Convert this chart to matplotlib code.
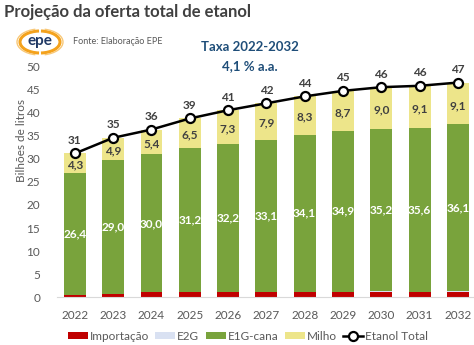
import numpy as np
import matplotlib
matplotlib.use("Agg")
import matplotlib.pyplot as plt
from matplotlib.patches import Arc

plt.rcParams['font.family'] = ['Lato', 'DejaVu Sans']

# oferta de etanol (bilhões de litros)
anos = ['2022', '2023', '2024', '2025', '2026', '2027', '2028', '2029', '2030', '2031', '2032']
importacao = [0.5, 0.6, 1.0, 1.0, 1.0, 1.0, 1.0, 1.0, 1.2, 1.0, 1.1]
e2g = [0.0, 0.1, 0.0, 0.1, 0.1, 0.1, 0.2, 0.2, 0.2, 0.2, 0.3]
e1g_cana = [26.4, 29.0, 30.0, 31.2, 32.2, 33.1, 34.1, 34.9, 35.2, 35.6, 36.1]
milho = [4.3, 4.9, 5.4, 6.5, 7.3, 7.9, 8.3, 8.7, 9.0, 9.1, 9.1]

c_imp = '#C00000'
c_e2g = '#D9E1F2'
c_cana = '#79A33C'
c_milho = '#EDE58A'
c_txt = '#404040'
c_tick = '#595959'

x = np.arange(len(anos))
imp = np.array(importacao)
seg = np.array(e2g)
cana = np.array(e1g_cana)
mil = np.array(milho)
total = imp + seg + cana + mil

fig = plt.figure(figsize=(4.74, 3.45), dpi=100)
ax = fig.add_axes([0.120, 0.139, 0.880, 0.667])

w = 0.57
h1 = ax.bar(x, imp, w, color=c_imp, label='Importação')
h2 = ax.bar(x, seg, w, bottom=imp, color=c_e2g, label='E2G')
h3 = ax.bar(x, cana, w, bottom=imp + seg, color=c_cana, label='E1G-cana')
h4 = ax.bar(x, mil, w, bottom=imp + seg + cana, color=c_milho, label='Milho')
h5, = ax.plot(x, total, color='black', lw=1.8, marker='o', ms=6.5,
              mfc='white', mec='black', mew=1.6, label='Etanol Total', zorder=5)

for i in range(len(x)):
    b = imp[i] + seg[i]
    ax.text(x[i], b + cana[i] / 2, f'{cana[i]:.1f}'.replace('.', ','),
            ha='center', va='center', color='white', fontsize=8.5, fontweight='bold')
    ax.text(x[i], b + cana[i] + mil[i] / 2 - 0.4, f'{mil[i]:.1f}'.replace('.', ','),
            ha='center', va='center', color=c_txt, fontsize=8.5, fontweight='bold')
    ax.text(x[i], total[i] + 1.6, f'{round(total[i] + 1e-9):.0f}',
            ha='center', va='bottom', color=c_txt, fontsize=8.5, fontweight='bold')

ax.set_xlim(-0.47, 10.42)
ax.set_ylim(0, 50)
ax.set_xticks(x)
ax.set_xticklabels(anos)
ax.set_yticks(np.arange(0, 51, 5))
ax.tick_params(length=0, labelsize=8.5, colors=c_tick, pad=9)
ax.tick_params(axis='y', pad=12)
for s in ['top', 'right', 'left']:
    ax.spines[s].set_visible(False)
ax.spines['bottom'].set_color('#D9D9D9')

fig.text(22 / 474, 1 - 140 / 345, 'Bilhões de litros', rotation=90,
         ha='center', va='center', fontsize=8.5, color=c_tick)

ax.legend([h1, h2, h3, h4, h5], ['Importação', 'E2G', 'E1G-cana', 'Milho', 'Etanol Total'],
          loc='upper center', bbox_to_anchor=(0.458, -0.10), ncol=5, frameon=False,
          fontsize=8.5, handlelength=1.7, handleheight=0.6, handletextpad=0.15,
          columnspacing=0.55, labelcolor=c_tick)

# título e notas
fig.text(4 / 474, 1 - 12 / 345, 'Projeção da oferta total de etanol',
         ha='left', va='center', fontsize=12, fontweight='bold', color=c_txt)
fig.text(73 / 474, 1 - 42 / 345, 'Fonte: Elaboração EPE',
         ha='left', va='center', fontsize=6.5, color=c_tick)
fig.text(250 / 474, 1 - 47 / 345, 'Taxa 2022-2032', ha='center', va='center',
         fontsize=9.5, fontweight='bold', color='#1F4E79')
fig.text(250 / 474, 1 - 66 / 345, '4,1 % a.a.', ha='center', va='center',
         fontsize=9.5, fontweight='bold', color='#1F4E79')

# logo epe
lax = fig.add_axes([14 / 474, 1 - 56 / 345, 52 / 474, 28 / 345])
lax.set_xlim(0, 52)
lax.set_ylim(0, 28)
lax.axis('off')
lax.add_patch(Arc((26, 14), 40, 22, theta1=95, theta2=265, color='#F4A21C', lw=2.2))
lax.add_patch(Arc((26, 14), 40, 22, theta1=-85, theta2=85, color='#F4A21C', lw=2.2))
lax.add_patch(Arc((26, 14), 46, 26, theta1=110, theta2=250, color='#F8C878', lw=1.0))
lax.add_patch(Arc((26, 14), 46, 26, theta1=-70, theta2=70, color='#F8C878', lw=1.0))
lax.text(26, 15, 'epe', ha='center', va='center', fontsize=11, fontweight='bold',
         color='#1F3864')

fig.savefig('out.png', dpi=100)
